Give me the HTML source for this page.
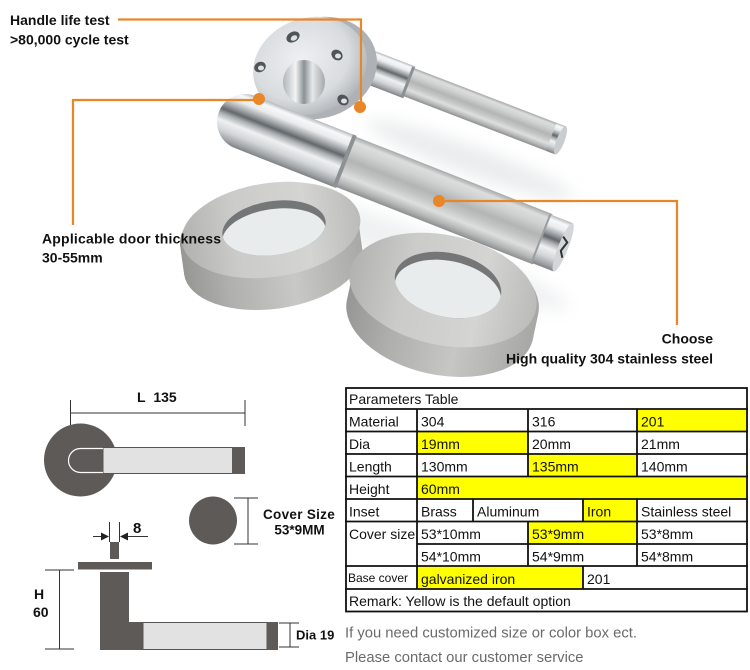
<!DOCTYPE html>
<html><head><meta charset="utf-8">
<style>
html,body{margin:0;padding:0;background:#fff;}
svg{display:block}
text{font-family:"Liberation Sans",Arial,sans-serif;}
.lb{font-weight:bold;font-size:14px;fill:#111;}
.tb{font-size:14px;fill:#111;}
.gr{font-size:14.8px;fill:#6a6a6a;}
</style></head><body>
<svg width="750" height="670" viewBox="0 0 750 670" xmlns="http://www.w3.org/2000/svg">
<defs>
 <linearGradient id="pol" x1="0" y1="0" x2="0" y2="1">
  <stop offset="0" stop-color="#b4b8bb"/>
  <stop offset="0.08" stop-color="#f7f8f9"/>
  <stop offset="0.2" stop-color="#e9ebec"/>
  <stop offset="0.32" stop-color="#a3a7aa"/>
  <stop offset="0.42" stop-color="#62676b"/>
  <stop offset="0.5" stop-color="#a9adb0"/>
  <stop offset="0.62" stop-color="#eef0f1"/>
  <stop offset="0.78" stop-color="#d3d6d8"/>
  <stop offset="0.92" stop-color="#a1a5a8"/>
  <stop offset="1" stop-color="#7e8285"/>
 </linearGradient>
 <linearGradient id="bru" x1="0" y1="0" x2="0" y2="1">
  <stop offset="0" stop-color="#a5a7a8"/>
  <stop offset="0.1" stop-color="#dcdddd"/>
  <stop offset="0.25" stop-color="#d0d1d1"/>
  <stop offset="0.45" stop-color="#b3b4b4"/>
  <stop offset="0.6" stop-color="#c4c5c5"/>
  <stop offset="0.75" stop-color="#dedede"/>
  <stop offset="0.9" stop-color="#b3b4b4"/>
  <stop offset="1" stop-color="#8d8e8f"/>
 </linearGradient>
 <radialGradient id="rose" cx="0.45" cy="0.4" r="0.6">
  <stop offset="0" stop-color="#eef0f2"/>
  <stop offset="0.7" stop-color="#d9dcdf"/>
  <stop offset="1" stop-color="#b4b8bc"/>
 </radialGradient>
 <linearGradient id="boss" x1="0" y1="0" x2="1" y2="0">
  <stop offset="0" stop-color="#b0b5b9"/>
  <stop offset="0.3" stop-color="#f2f4f5"/>
  <stop offset="0.5" stop-color="#8a9095"/>
  <stop offset="0.7" stop-color="#e6e8ea"/>
  <stop offset="1" stop-color="#a3a8ac"/>
 </linearGradient>
 <linearGradient id="rtop" x1="0" y1="0" x2="1" y2="0">
  <stop offset="0" stop-color="#b2b2b0"/>
  <stop offset="0.3" stop-color="#cbcbc9"/>
  <stop offset="0.7" stop-color="#d4d4d2"/>
  <stop offset="1" stop-color="#bbbbb9"/>
 </linearGradient>
 <linearGradient id="rwallL" gradientUnits="userSpaceOnUse" x1="180" y1="0" x2="362" y2="0">
  <stop offset="0" stop-color="#969694"/>
  <stop offset="0.25" stop-color="#b0b0ae"/>
  <stop offset="0.6" stop-color="#c8c8c6"/>
  <stop offset="1" stop-color="#a8a8a6"/>
 </linearGradient>
 <linearGradient id="rwallR" gradientUnits="userSpaceOnUse" x1="348" y1="0" x2="540" y2="0">
  <stop offset="0" stop-color="#969694"/>
  <stop offset="0.25" stop-color="#aeaeac"/>
  <stop offset="0.6" stop-color="#c6c6c4"/>
  <stop offset="1" stop-color="#a6a6a4"/>
 </linearGradient>
 <clipPath id="holeL"><ellipse cx="274" cy="228" rx="52" ry="27" transform="rotate(-8 274 228)"/></clipPath>
 <clipPath id="holeR"><ellipse cx="448" cy="285" rx="54" ry="32" transform="rotate(12 448 285)"/></clipPath>
 <filter id="blur" x="-20%" y="-50%" width="140%" height="200%"><feGaussianBlur stdDeviation="8"/></filter>
</defs>

<rect width="750" height="670" fill="#fff"/>

<!-- soft shadows -->
<ellipse cx="470" cy="160" rx="110" ry="14" fill="#dcdfe1" opacity="0.6" filter="url(#blur)" transform="rotate(20 470 160)"/>
<ellipse cx="420" cy="250" rx="160" ry="18" fill="#dfe2e4" opacity="0.5" filter="url(#blur)" transform="rotate(21 420 250)"/>

<!-- Left ring -->
<g fill="url(#rwallL)" transform="rotate(-8 271 246)">
 <ellipse cx="271" cy="234" rx="90" ry="47"/>
 <ellipse cx="271" cy="238" rx="90" ry="47"/>
 <ellipse cx="271" cy="242" rx="90" ry="47"/>
 <ellipse cx="271" cy="246" rx="90" ry="47"/>
 <ellipse cx="271" cy="250" rx="90" ry="47"/>
 <ellipse cx="271" cy="254" rx="90" ry="47"/>
 <ellipse cx="271" cy="258" rx="90" ry="47"/>
 <ellipse cx="271" cy="262" rx="90" ry="47"/>
</g>
<ellipse cx="271" cy="230" rx="90" ry="47" transform="rotate(-8 271 230)" fill="url(#rtop)"/>
<ellipse cx="274" cy="228" rx="52" ry="27" transform="rotate(-8 274 228)" fill="#747678"/>
<g clip-path="url(#holeL)"><ellipse cx="274" cy="235" rx="52" ry="26" transform="rotate(-8 274 235)" fill="#e9eced"/></g>

<!-- Right ring -->
<g fill="url(#rwallR)" transform="rotate(12 443 305)">
 <ellipse cx="443" cy="294" rx="95" ry="55"/>
 <ellipse cx="443" cy="298" rx="95" ry="55"/>
 <ellipse cx="443" cy="302" rx="95" ry="55"/>
 <ellipse cx="443" cy="306" rx="95" ry="55"/>
 <ellipse cx="443" cy="310" rx="95" ry="55"/>
 <ellipse cx="443" cy="314" rx="95" ry="55"/>
 <ellipse cx="443" cy="318" rx="95" ry="55"/>
 <ellipse cx="443" cy="320" rx="95" ry="55"/>
</g>
<ellipse cx="443" cy="290" rx="95" ry="55" transform="rotate(12 443 290)" fill="url(#rtop)"/>
<ellipse cx="448" cy="285" rx="54" ry="32" transform="rotate(12 448 285)" fill="#747678"/>
<g clip-path="url(#holeR)"><ellipse cx="448" cy="292" rx="54" ry="31" transform="rotate(12 448 292)" fill="#e9eced"/></g>

<!-- Back lever -->
<g transform="translate(372,68) rotate(21)">
 <rect x="-5" y="-17" width="45" height="34" fill="url(#pol)"/>
 <rect x="38" y="-15" width="160" height="30" fill="url(#bru)"/>
 <rect x="37" y="-16" width="3" height="32" fill="#8c9093"/>
 <rect x="192" y="-15" width="10" height="30" fill="url(#pol)"/>
 <ellipse cx="202" cy="0" rx="4" ry="15" fill="#c9cdd0"/>
</g>

<!-- Rose -->
<ellipse cx="318" cy="68" rx="60" ry="50" transform="rotate(-20 318 68)" fill="#aeb2b6"/>
<ellipse cx="310" cy="66" rx="58" ry="48" transform="rotate(-20 310 66)" fill="url(#rose)"/>
<g fill="#4f5458">
 <ellipse cx="293" cy="37" rx="7" ry="5" transform="rotate(-30 293 37)"/>
 <ellipse cx="337" cy="55" rx="6" ry="5" transform="rotate(40 337 55)"/>
 <ellipse cx="260" cy="67" rx="6" ry="5" transform="rotate(-30 260 67)"/>
 <ellipse cx="343" cy="100" rx="6" ry="5" transform="rotate(40 343 100)"/>
</g>
<g fill="#dfe2e4">
 <ellipse cx="294" cy="38" rx="3.5" ry="2.5" transform="rotate(-30 294 38)"/>
 <ellipse cx="338" cy="56" rx="3" ry="2.5"/>
 <ellipse cx="261" cy="68" rx="3" ry="2.5"/>
 <ellipse cx="344" cy="101" rx="3" ry="2.5"/>
</g>
<ellipse cx="304" cy="82" rx="21" ry="22" fill="url(#boss)"/>

<!-- Front lever -->
<g transform="translate(245,122) rotate(21.5)">
 <path d="M108,-28 L0,-28 A28,28 0 0 0 0,28 L108,28 Z" fill="url(#pol)"/>
 <rect x="108" y="-27" width="212" height="54" fill="url(#bru)"/>
 <rect x="105" y="-28" width="4" height="56" fill="#8d9194"/>
 <rect x="318" y="-26" width="24" height="52" fill="url(#pol)"/>
 <rect x="317" y="-26" width="2" height="52" fill="#9a9ea1"/>
 <ellipse cx="342" cy="0" rx="5" ry="26" fill="#d4d7da"/>
 <path d="M338,-10 l6,4 l-3,10 l4,6" stroke="#2d3236" stroke-width="2" fill="none"/>
</g>

<!-- Orange callouts -->
<g stroke="#e9862a" stroke-width="2.2" fill="none">
 <polyline points="118,19.5 361,19.5 361,107"/>
 <polyline points="259,100 73,100 73,225"/>
 <polyline points="439,201 677,201 677,325"/>
</g>
<g fill="#e9862a">
 <circle cx="360" cy="107" r="6"/>
 <circle cx="259" cy="99" r="6"/>
 <circle cx="439" cy="201" r="6"/>
</g>

<!-- Labels -->
<text class="lb" x="10" y="25">Handle life test</text>
<text class="lb" x="10" y="44.5">&gt;80,000 cycle test</text>
<text class="lb" x="42" y="243.5" letter-spacing="0.2">Applicable door thickness</text>
<text class="lb" x="42" y="262.5">30-55mm</text>
<text class="lb" x="713" y="343.5" text-anchor="end">Choose</text>
<text class="lb" x="713" y="363.5" text-anchor="end">High quality 304 stainless steel</text>

<!-- Diagram: top view -->
<g stroke="#333" stroke-width="1" fill="none">
 <line x1="70" y1="413" x2="245" y2="413"/>
 <line x1="70.5" y1="400" x2="70.5" y2="425"/>
 <line x1="245" y1="400" x2="245" y2="426"/>
</g>
<text class="lb" x="137" y="402">L&#160;&#160;135</text>
<circle cx="80.5" cy="460" r="36.5" fill="#5e5a58"/>
<rect x="103" y="447.5" width="130" height="26" fill="#e2e2e2" stroke="#555" stroke-width="1"/>
<rect x="232" y="447" width="13" height="27" fill="#5e5a58"/>
<path d="M103,448.5 H80.5 A12,12 0 0 0 80.5,472.5 H103" stroke="#fff" stroke-width="1.2" fill="none"/>

<!-- Cover -->
<circle cx="213" cy="520.5" r="24" fill="#5e5a58"/>
<g stroke="#333" stroke-width="1" fill="none">
 <line x1="234" y1="498" x2="258" y2="498"/>
 <line x1="248" y1="498" x2="248" y2="544"/>
 <line x1="234" y1="544" x2="258" y2="544"/>
</g>
<text class="lb" x="263" y="519" letter-spacing="0.3" style="font-size:13.5px">Cover Size</text>
<text class="lb" x="299.5" y="534.5" text-anchor="middle" style="font-size:13.5px">53*9MM</text>

<!-- Side view -->
<text class="lb" x="133" y="533" style="font-size:15px">8</text>
<g stroke="#333" stroke-width="1" fill="none">
 <line x1="109.5" y1="522" x2="109.5" y2="542"/>
 <line x1="119.5" y1="522" x2="119.5" y2="542"/>
 <line x1="93" y1="536.5" x2="103" y2="536.5"/>
 <line x1="126" y1="536.5" x2="148" y2="536.5"/>
 <line x1="59.5" y1="570" x2="59.5" y2="649"/>
 <line x1="45" y1="570" x2="74" y2="570"/>
 <line x1="45" y1="649" x2="74" y2="649"/>
 <line x1="290" y1="623" x2="290" y2="647"/>
 <line x1="279" y1="623" x2="299" y2="623"/>
 <line x1="279" y1="647" x2="299" y2="647"/>
</g>
<path d="M109,536.5 L101,532.5 L101,540.5 Z" fill="#222"/>
<path d="M120,536.5 L128,532.5 L128,540.5 Z" fill="#222"/>
<rect x="110" y="542" width="9" height="17" fill="#5e5a58"/>
<rect x="78" y="562" width="74" height="7.5" fill="#5e5a58"/>
<rect x="100" y="572" width="29" height="78" fill="#5e5a58"/>
<rect x="100" y="622" width="44" height="28" fill="#5e5a58"/>
<rect x="143" y="622.5" width="124" height="27" fill="#e2e2e2" stroke="#555" stroke-width="1"/>
<rect x="267" y="622" width="11" height="28" fill="#5e5a58"/>
<text class="lb" x="34" y="599">H</text>
<text class="lb" x="33" y="617">60</text>
<text class="lb" x="296" y="639.5" style="font-size:13px">Dia 19</text>

<!-- Table -->
<g fill="#ffff00">
 <rect x="637" y="409" width="110" height="22.5"/>
 <rect x="417" y="431.5" width="111" height="22.5"/>
 <rect x="528" y="454" width="109" height="22.5"/>
 <rect x="417" y="476.5" width="330" height="22.5"/>
 <rect x="583" y="499" width="54" height="22.5"/>
 <rect x="528" y="521.5" width="109" height="22.5"/>
 <rect x="417" y="566" width="166" height="23"/>
</g>
<g stroke="#111" stroke-width="1.8" fill="none">
 <rect x="346" y="388" width="401" height="223.5"/>
 <line x1="345" y1="409" x2="748" y2="409"/>
 <line x1="345" y1="431.5" x2="748" y2="431.5"/>
 <line x1="345" y1="454" x2="748" y2="454"/>
 <line x1="345" y1="476.5" x2="748" y2="476.5"/>
 <line x1="345" y1="499" x2="748" y2="499"/>
 <line x1="345" y1="521.5" x2="748" y2="521.5"/>
 <line x1="417" y1="544" x2="748" y2="544"/>
 <line x1="345" y1="566" x2="748" y2="566"/>
 <line x1="345" y1="589" x2="748" y2="589"/>
 <line x1="417" y1="409" x2="417" y2="589"/>
 <line x1="528" y1="409" x2="528" y2="476.5"/>
 <line x1="637" y1="409" x2="637" y2="476.5"/>
 <line x1="473" y1="499" x2="473" y2="521.5"/>
 <line x1="583" y1="499" x2="583" y2="521.5"/>
 <line x1="637" y1="499" x2="637" y2="521.5"/>
 <line x1="528" y1="521.5" x2="528" y2="566"/>
 <line x1="637" y1="521.5" x2="637" y2="566"/>
 <line x1="583" y1="566" x2="583" y2="589"/>
</g>
<g>
 <text class="tb" x="349" y="404">Parameters Table</text>
 <text class="tb" x="349" y="426.5">Material</text>
 <text class="tb" x="421" y="426.5">304</text>
 <text class="tb" x="532" y="426.5">316</text>
 <text class="tb" x="641" y="426.5">201</text>
 <text class="tb" x="349" y="449">Dia</text>
 <text class="tb" x="421" y="449">19mm</text>
 <text class="tb" x="532" y="449">20mm</text>
 <text class="tb" x="641" y="449">21mm</text>
 <text class="tb" x="349" y="471.5">Length</text>
 <text class="tb" x="421" y="471.5">130mm</text>
 <text class="tb" x="532" y="471.5">135mm</text>
 <text class="tb" x="641" y="471.5">140mm</text>
 <text class="tb" x="349" y="494">Height</text>
 <text class="tb" x="421" y="494">60mm</text>
 <text class="tb" x="349" y="516.5">Inset</text>
 <text class="tb" x="421" y="516.5">Brass</text>
 <text class="tb" x="477" y="516.5">Aluminum</text>
 <text class="tb" x="587" y="516.5">Iron</text>
 <text class="tb" x="641" y="516.5">Stainless steel</text>
 <text class="tb" x="349" y="539">Cover size</text>
 <text class="tb" x="421" y="539">53*10mm</text>
 <text class="tb" x="532" y="539">53*9mm</text>
 <text class="tb" x="641" y="539">53*8mm</text>
 <text class="tb" x="421" y="561.5">54*10mm</text>
 <text class="tb" x="532" y="561.5">54*9mm</text>
 <text class="tb" x="641" y="561.5">54*8mm</text>
 <text class="tb" x="348" y="582" style="font-size:12px">Base cover</text>
 <text class="tb" x="421" y="584">galvanized iron</text>
 <text class="tb" x="587" y="584">201</text>
 <text class="tb" x="349" y="606">Remark: Yellow is the default option</text>
</g>

<text class="gr" x="345" y="637.5">If you need customized size or color box ect.</text>
<text class="gr" x="345" y="662">Please contact our customer service</text>
</svg>
</body></html>
